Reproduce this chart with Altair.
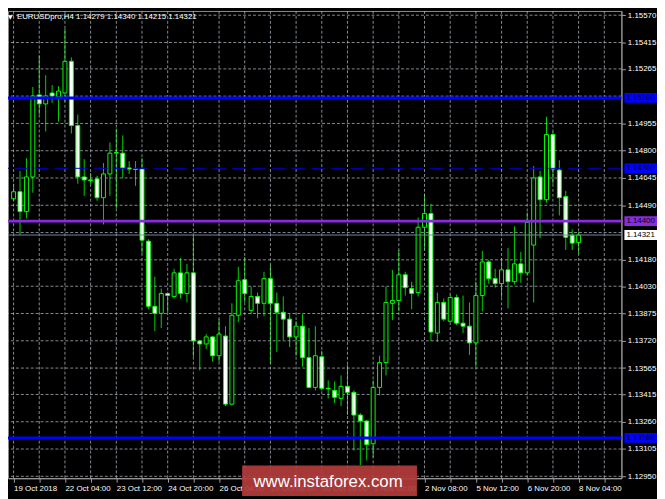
import json
import altair as alt
import pandas as pd

# ---------------- data ----------------
header_text = "EURUSDpro,H4  1.14279 1.14340 1.14215 1.14321"
header_mark = "\u25bc"
watermark_text = "www.instaforex.com"

opens = [1.14527, 1.14567, 1.14454, 1.14651, 1.15117, 1.15066, 1.15128, 1.15106, 1.15128, 1.15308,
         1.14943, 1.14651, 1.14634, 1.14640, 1.14533, 1.14668, 1.14786, 1.14786, 1.14702, 1.14696,
         1.14696, 1.14286, 1.13916, 1.13876, 1.13989, 1.13972, 1.14106, 1.13989, 1.14106, 1.13719,
         1.13702, 1.13742, 1.13635, 1.13747, 1.13360, 1.13865, 1.14067, 1.13893, 1.13972, 1.13933,
         1.14073, 1.13933, 1.13882, 1.13843, 1.13742, 1.13803, 1.13624, 1.13455, 1.13629, 1.13450,
         1.13438, 1.13393, 1.13461, 1.13427, 1.13298, 1.13264, 1.13135, 1.13455, 1.13596, 1.13933,
         1.13949, 1.14095, 1.14017, 1.13994, 1.14365, 1.14443, 1.13764, 1.13938, 1.13831, 1.13966,
         1.13820, 1.13803, 1.13708, 1.13977, 1.14168, 1.14073, 1.14045, 1.14123, 1.14056, 1.14157,
         1.14106, 1.14264, 1.14651, 1.14522, 1.14892, 1.14690, 1.14539, 1.14320, 1.14279]
highs = [1.14612, 1.14685, 1.14758, 1.15162, 1.15341, 1.15229, 1.15173, 1.15167, 1.15493, 1.15330,
         1.15005, 1.14752, 1.14673, 1.14657, 1.14730, 1.14847, 1.14926, 1.14887, 1.14741, 1.14741,
         1.14758, 1.14297, 1.14084, 1.14017, 1.13994, 1.14129, 1.14191, 1.14157, 1.14320, 1.13722,
         1.13758, 1.13745, 1.13843, 1.13803, 1.13933, 1.14140, 1.14196, 1.14028, 1.13994, 1.14112,
         1.14151, 1.13994, 1.13972, 1.13871, 1.13831, 1.13871, 1.13792, 1.13803, 1.13663, 1.13495,
         1.13489, 1.13523, 1.13584, 1.13438, 1.13309, 1.13270, 1.13495, 1.13635, 1.14028, 1.14123,
         1.14236, 1.14112, 1.14056, 1.14421, 1.14556, 1.14499, 1.13994, 1.13960, 1.13983, 1.13983,
         1.13977, 1.13938, 1.14056, 1.14231, 1.14179, 1.14129, 1.14191, 1.14247, 1.14370, 1.14225,
         1.14449, 1.14713, 1.14685, 1.14993, 1.14909, 1.14746, 1.14572, 1.14353, 1.14340]
lows = [1.14516, 1.14320, 1.14415, 1.14561, 1.15005, 1.14909, 1.15072, 1.14965, 1.15078, 1.14898,
        1.14612, 1.14544, 1.14612, 1.14516, 1.14381, 1.14544, 1.14471, 1.14645, 1.14668, 1.14600,
        1.14219, 1.13899, 1.13775, 1.13792, 1.13882, 1.13960, 1.13960, 1.13938, 1.13629, 1.13551,
        1.13674, 1.13601, 1.13601, 1.13349, 1.13354, 1.13826, 1.13938, 1.13871, 1.13848, 1.13859,
        1.13590, 1.13657, 1.13725, 1.13685, 1.13635, 1.13573, 1.13450, 1.13438, 1.13438, 1.13393,
        1.13365, 1.13349, 1.13298, 1.13096, 1.13012, 1.13040, 1.13057, 1.13410, 1.13523, 1.13837,
        1.13887, 1.13977, 1.13899, 1.13972, 1.14236, 1.13719, 1.13714, 1.13831, 1.13826, 1.13809,
        1.13764, 1.13640, 1.13573, 1.13887, 1.14045, 1.14022, 1.13966, 1.13904, 1.14039, 1.14050,
        1.14095, 1.13938, 1.14303, 1.14505, 1.14612, 1.14432, 1.14236, 1.14236, 1.14215]
closes = [1.14567, 1.14454, 1.14651, 1.15111, 1.15066, 1.15111, 1.15111, 1.15139, 1.15308, 1.14943,
          1.14651, 1.14634, 1.14631, 1.14533, 1.14668, 1.14786, 1.14790, 1.14702, 1.14696, 1.14694,
          1.14292, 1.13916, 1.13876, 1.13989, 1.13977, 1.14106, 1.13989, 1.14106, 1.13719, 1.13702,
          1.13742, 1.13635, 1.13758, 1.13360, 1.13865, 1.14061, 1.13989, 1.13972, 1.13933, 1.14073,
          1.13933, 1.13882, 1.13843, 1.13742, 1.13803, 1.13624, 1.13455, 1.13635, 1.13450, 1.13447,
          1.13399, 1.13461, 1.13427, 1.13298, 1.13264, 1.13130, 1.13455, 1.13596, 1.13938, 1.13949,
          1.14095, 1.14022, 1.13989, 1.14365, 1.14443, 1.13770, 1.13938, 1.13843, 1.13966, 1.13820,
          1.13803, 1.13708, 1.13977, 1.14168, 1.14073, 1.14045, 1.14123, 1.14056, 1.14157, 1.14106,
          1.14393, 1.14645, 1.14522, 1.14892, 1.14696, 1.14533, 1.14308, 1.14275, 1.14321]

time_labels = ["19 Oct 2018", "22 Oct 04:00", "23 Oct 12:00", "24 Oct 20:00", "26 Oct 04:00",
               "29 Oct 08:00", "30 Oct 16:00", "1 Nov 00:00", "2 Nov 08:00", "5 Nov 12:00",
               "6 Nov 20:00", "8 Nov 04:00"]
bars_per_label = 8
bars_per_grid = 4

price_ticks = [1.15570, 1.15415, 1.15265, 1.15110, 1.14955, 1.14800, 1.14645, 1.14490, 1.14335,
               1.14180, 1.14030, 1.13875, 1.13720, 1.13565, 1.13415, 1.13260, 1.13105, 1.12950]

level_prices = [1.15100, 1.14700, 1.14400, 1.14321, 1.13168]
level_kinds = ["resistance", "pivot", "level", "bid", "support"]

# ---------------- styles ----------------
FONT = "Liberation Sans"
W, H = 621, 473
X_DOMAIN = [-0.1, 93.9]
Y_DOMAIN = [1.12939, 1.15594]
GRID = "#b0b8c2"
BOX_HALF = 0.00028
LINE_COLOR = {"resistance": "#0000ff", "pivot": "#0000cd", "level": "#8a2be2",
              "bid": "#778899", "support": "#0000ff"}
LINE_WIDTH = {"resistance": 3, "pivot": 1, "level": 3, "bid": 1, "support": 3}
BOX_COLOR = {"resistance": "#0000ff", "pivot": "#0000ff", "level": "#8a2be2",
             "bid": "#ffffff", "support": "#0000ff"}

candles = pd.DataFrame({"i": list(range(len(opens))), "o": opens, "h": highs,
                        "l": lows, "c": closes})
candles["body_fill"] = ["#ffffff" if c < o else "#000000" for o, c in zip(opens, closes)]

levels = pd.DataFrame({"price": level_prices, "kind": level_kinds})
levels["line_color"] = levels["kind"].map(LINE_COLOR)
levels["line_width"] = levels["kind"].map(LINE_WIDTH)
levels["box_color"] = levels["kind"].map(BOX_COLOR)

# tick labels hidden behind the level price boxes are not written
labelled_ticks = [t for t in price_ticks
                  if all(abs(t - p) > BOX_HALF + 0.00002 for p in level_prices)]

n_slots = int(X_DOMAIN[1]) + 1
grid_x = pd.DataFrame({"g": list(range(0, n_slots, bars_per_grid))})
grid_y = pd.DataFrame({"p": price_ticks})

xs = alt.Scale(domain=X_DOMAIN, nice=False, zero=False)
ys = alt.Scale(domain=Y_DOMAIN, nice=False, zero=False)

label_expr = ("datum.value % " + str(bars_per_label) + " == 0 ? " + json.dumps(time_labels)
              + "[datum.value / " + str(bars_per_label) + "] : ''")
x_axis = alt.Axis(values=list(range(0, n_slots, bars_per_grid)), labelExpr=label_expr,
                  grid=False, orient="bottom", labelAlign="left", labelFlush=False,
                  labelOverlap=False, labelPadding=2, tickSize=4, title=None)
y_axis = alt.Axis(values=labelled_ticks, format=".5f", orient="right", grid=False,
                  labelFlush=False, labelOverlap=False, labelPadding=2, tickSize=4,
                  title=None)

# grid as rules drawn from the tick arrays
vgrid = alt.Chart(grid_x).mark_rule(color=GRID, strokeDash=[3, 2], strokeWidth=1,
                                    opacity=0.75).encode(
    x=alt.X("g:Q", scale=xs, axis=None))
hgrid = alt.Chart(grid_y).mark_rule(color=GRID, strokeDash=[3, 2], strokeWidth=1,
                                    opacity=0.75).encode(
    y=alt.Y("p:Q", scale=ys, axis=None))

base = alt.Chart(candles)
wicks = base.mark_rule(color="#00d400", strokeWidth=1).encode(
    x=alt.X("i:Q", scale=xs, axis=x_axis),
    y=alt.Y("l:Q", scale=ys, axis=y_axis),
    y2="h:Q",
)
bodies = base.mark_bar(size=4, stroke="#00ff00", strokeWidth=1).encode(
    x=alt.X("i:Q", scale=xs, axis=None),
    y=alt.Y("o:Q", scale=ys, axis=None),
    y2="c:Q",
    fill=alt.Fill("body_fill:N", scale=None),
)

lv = alt.Chart(levels)
solid_lines = lv.transform_filter(alt.datum.kind != "pivot").mark_rule().encode(
    y=alt.Y("price:Q", scale=ys, axis=None),
    color=alt.Color("line_color:N", scale=None),
    strokeWidth=alt.StrokeWidth("line_width:Q", scale=None),
)
dashed_line = lv.transform_filter(alt.datum.kind == "pivot").mark_rule(
    strokeDash=[14, 6], strokeWidth=1).encode(
    y=alt.Y("price:Q", scale=ys, axis=None),
    color=alt.Color("line_color:N", scale=None),
)
boxes = lv.transform_calculate(
    lo="datum.price - " + str(BOX_HALF), hi="datum.price + " + str(BOX_HALF)
).mark_rect().encode(
    x=alt.value(624), x2=alt.value(657),
    y=alt.Y("lo:Q", scale=ys, axis=None), y2="hi:Q",
    fill=alt.Fill("box_color:N", scale=None),
)
box_text = lv.transform_calculate(label="format(datum.price, '.5f')").mark_text(
    align="left", baseline="middle", font=FONT, fontSize=8, color="#000000").encode(
    x=alt.value(626), y=alt.Y("price:Q", scale=ys, axis=None), text="label:N")

hdr = alt.Chart(pd.DataFrame({"t": [header_text], "m": [header_mark]}))
header = hdr.mark_text(align="left", baseline="middle", font=FONT, fontSize=8,
                       color="#ffffff").encode(x=alt.value(9), y=alt.value(6), text="t:N")
tri = hdr.mark_text(align="left", baseline="middle", font="DejaVu Sans", fontSize=6,
                    color="#ffffff").encode(x=alt.value(0), y=alt.value(6), text="m:N")

wm = alt.Chart(pd.DataFrame({"t": [watermark_text]}))
wm_rect = wm.mark_rect(color="#b23b3b", opacity=0.93).encode(
    x=alt.value(237), x2=alt.value(414), y=alt.value(460), y2=alt.value(491))
wm_text = wm.mark_text(align="center", baseline="alphabetic", font=FONT, fontSize=17,
                       color="#ffffff").encode(x=alt.value(324), y=alt.value(482), text="t:N")

chart = alt.layer(
    wicks, vgrid, hgrid, bodies, solid_lines, dashed_line, boxes, box_text, header, tri,
    wm_rect, wm_text
).resolve_axis(
    x="independent", y="independent"
).properties(
    width=W, height=H,
    padding={"left": 0, "top": 0, "right": 36, "bottom": 18},
    autosize=alt.AutoSizeParams(type="none"),
).configure(
    background="#000000"
).configure_view(
    stroke="#8c8c8c", strokeWidth=1
).configure_axis(
    labelOverlap=False, labelFlush=False,
    domainColor="#a0a0a0", tickColor="#a0a0a0",
    labelColor="#ffffff", labelFont=FONT, labelFontSize=8,
)

chart.save("out.html", embed_options={"renderer": "svg", "actions": False})
